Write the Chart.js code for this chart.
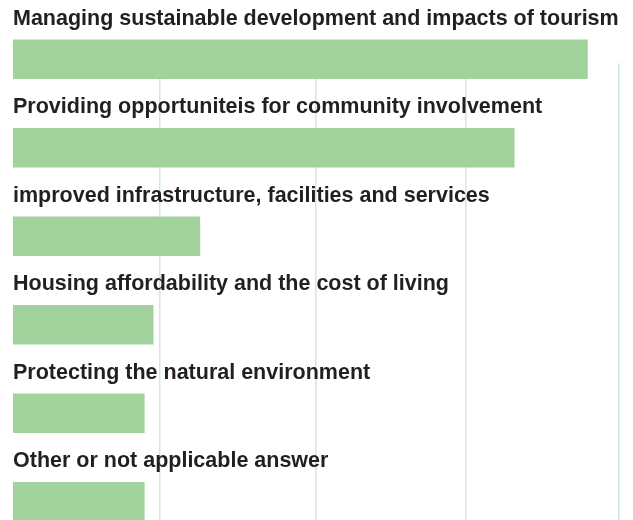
<!DOCTYPE html>
<html>
<head>
<meta charset="utf-8">
<script src="https://cdn.jsdelivr.net/npm/chart.js@4/dist/chart.umd.min.js"></script>
<style>
  html, body { margin: 0; padding: 0; background: #ffffff; overflow: hidden; }
  #wrap { width: 633px; height: 546px; }
</style>
</head>
<body>
<div id="wrap"><canvas id="c" width="633" height="546"></canvas></div>
<script>
const categories = [
  "Managing sustainable development and impacts of tourism",
  "Providing opportuniteis for community involvement",
  "improved infrastructure, facilities and services",
  "Housing affordability and the cost of living",
  "Protecting the natural environment",
  "Other or not applicable answer"
];
const values = [45.5, 39.7, 14.8, 11.1, 10.4, 10.4];
const gridTicks = [11.6, 24, 35.9, 48];
const axisMax = 48;

const labelPlugin = {
  id: 'barLabels',
  beforeDatasetsDraw(chart) {
    const ctx = chart.ctx;
    const ys = chart.scales.y;
    const area = chart.chartArea;
    const top = ys.getPixelForTick(0) + 4;
    ctx.save();
    ctx.fillStyle = '#ffffff';
    ctx.fillRect(area.left, 0, area.right - area.left + 4, top);
    ctx.restore();
  },
  afterDatasetsDraw(chart) {
    const ctx = chart.ctx;
    const ys = chart.scales.y;
    const area = chart.chartArea;
    ctx.save();
    ctx.font = 'bold 21.5px "Liberation Sans", Arial, sans-serif';
    ctx.fillStyle = '#231f20';
    ctx.textAlign = 'left';
    ctx.textBaseline = 'middle';
    categories.forEach((lab, i) => {
      const y = ys.getPixelForTick(i) - 40.5;
      ctx.fillText(lab, area.left, y);
    });
    ctx.restore();
  }
};

new Chart(document.getElementById('c'), {
  type: 'bar',
  data: {
    labels: categories,
    datasets: [{
      data: values,
      backgroundColor: '#a2d39c',
      borderWidth: 0,
      barThickness: 39
    }]
  },
  options: {
    indexAxis: 'y',
    responsive: false,
    devicePixelRatio: 1,
    animation: false,
    layout: { padding: { left: 13, right: 14, top: 15, bottom: 0 } },
    plugins: { legend: { display: false }, tooltip: { enabled: false } },
    scales: {
      x: {
        min: 0,
        max: axisMax,
        afterBuildTicks: (axis) => { axis.ticks = gridTicks.map(v => ({ value: v })); },
        ticks: { display: false },
        border: { display: false },
        grid: { color: '#d0e5ec', lineWidth: 1.5, drawTicks: false }
      },
      y: {
        display: false
      }
    }
  },
  plugins: [labelPlugin]
});
</script>
</body>
</html>
